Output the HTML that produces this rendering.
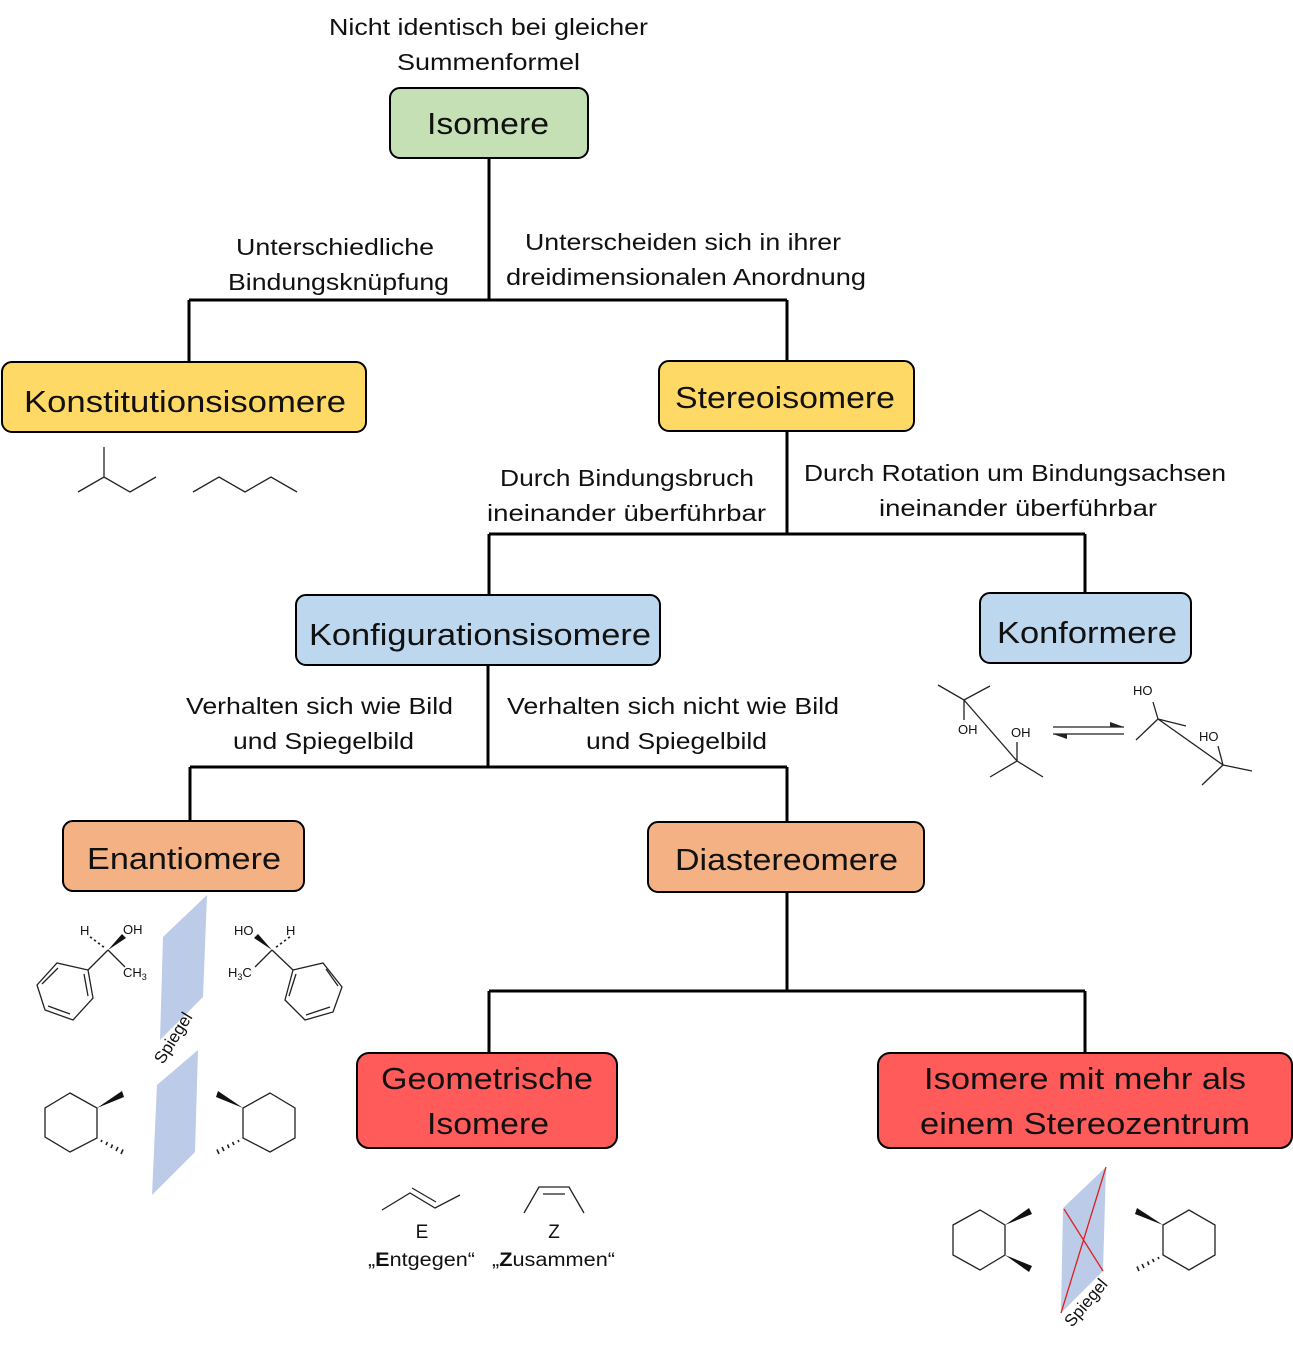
<!DOCTYPE html>
<html><head><meta charset="utf-8"><style>
html,body{margin:0;padding:0;background:#fff}
svg{display:block}
text{font-family:"Liberation Sans",sans-serif;fill:#111}
.l{font-size:23px}
.n{font-size:31px}
.c{font-size:13px}
</style></head><body>
<svg width="1293" height="1352" viewBox="0 0 1293 1352" xmlns="http://www.w3.org/2000/svg">
<g stroke="#000" stroke-width="3" fill="none">
<path d="M489 158V300M189 300H787M189 300V362M787 300V361"/>
<path d="M787 431V534M489 534H1085M489 534V595M1085 534V593"/>
<path d="M488 665V767M190 767H787M190 767V821M787 767V822"/>
<path d="M787 892V991M489 991H1085M489 991V1053M1085 991V1053"/>
</g>
<g stroke="#000" stroke-width="2">
<rect x="390" y="88" width="198" height="70" rx="10" fill="#c5e0b4"/>
<rect x="2" y="362" width="364" height="70" rx="10" fill="#ffd966"/>
<rect x="659" y="361" width="255" height="70" rx="10" fill="#ffd966"/>
<rect x="296" y="595" width="364" height="70" rx="10" fill="#bdd7ee"/>
<rect x="980" y="593" width="211" height="70" rx="10" fill="#bdd7ee"/>
<rect x="63" y="821" width="241" height="70" rx="10" fill="#f4b183"/>
<rect x="648" y="822" width="276" height="70" rx="10" fill="#f4b183"/>
<rect x="357" y="1053" width="260" height="95" rx="12" fill="#ff5b5b"/>
<rect x="878" y="1053" width="414" height="95" rx="12" fill="#ff5b5b"/>
</g>
<g class="n">
<text x="427" y="134" textLength="122" lengthAdjust="spacingAndGlyphs" class="n">Isomere</text>
<text x="24" y="412" textLength="322" lengthAdjust="spacingAndGlyphs" class="n">Konstitutionsisomere</text>
<text x="675" y="408" textLength="220" lengthAdjust="spacingAndGlyphs" class="n">Stereoisomere</text>
<text x="309" y="645" textLength="342" lengthAdjust="spacingAndGlyphs" class="n">Konfigurationsisomere</text>
<text x="997" y="643" textLength="180" lengthAdjust="spacingAndGlyphs" class="n">Konformere</text>
<text x="87" y="869" textLength="194" lengthAdjust="spacingAndGlyphs" class="n">Enantiomere</text>
<text x="675" y="870" textLength="223" lengthAdjust="spacingAndGlyphs" class="n">Diastereomere</text>
<text x="381" y="1089" textLength="212" lengthAdjust="spacingAndGlyphs" class="n">Geometrische</text>
<text x="427" y="1134" textLength="122" lengthAdjust="spacingAndGlyphs" class="n">Isomere</text>
<text x="924" y="1089" textLength="322" lengthAdjust="spacingAndGlyphs" class="n">Isomere mit mehr als</text>
<text x="920" y="1134" textLength="330" lengthAdjust="spacingAndGlyphs" class="n">einem Stereozentrum</text>
</g>
<g>
<text class="l" x="329" y="35" textLength="319" lengthAdjust="spacingAndGlyphs">Nicht identisch bei gleicher</text>
<text class="l" x="397" y="70" textLength="183" lengthAdjust="spacingAndGlyphs">Summenformel</text>
<text class="l" x="236" y="255" textLength="198" lengthAdjust="spacingAndGlyphs">Unterschiedliche</text>
<text class="l" x="228" y="290" textLength="221" lengthAdjust="spacingAndGlyphs">Bindungsknüpfung</text>
<text class="l" x="525" y="250" textLength="316" lengthAdjust="spacingAndGlyphs">Unterscheiden sich in ihrer</text>
<text class="l" x="506" y="285" textLength="360" lengthAdjust="spacingAndGlyphs">dreidimensionalen Anordnung</text>
<text class="l" x="500" y="486" textLength="254" lengthAdjust="spacingAndGlyphs">Durch Bindungsbruch</text>
<text class="l" x="487" y="521" textLength="279" lengthAdjust="spacingAndGlyphs">ineinander überführbar</text>
<text class="l" x="804" y="481" textLength="422" lengthAdjust="spacingAndGlyphs">Durch Rotation um Bindungsachsen</text>
<text class="l" x="879" y="516" textLength="278" lengthAdjust="spacingAndGlyphs">ineinander überführbar</text>
<text class="l" x="186" y="714" textLength="267" lengthAdjust="spacingAndGlyphs">Verhalten sich wie Bild</text>
<text class="l" x="233" y="749" textLength="181" lengthAdjust="spacingAndGlyphs">und Spiegelbild</text>
<text class="l" x="507" y="714" textLength="332" lengthAdjust="spacingAndGlyphs">Verhalten sich nicht wie Bild</text>
<text class="l" x="586" y="749" textLength="181" lengthAdjust="spacingAndGlyphs">und Spiegelbild</text>
<text x="422" y="1238" font-size="19" text-anchor="middle">E</text>
<text x="554" y="1238" font-size="19" text-anchor="middle">Z</text>
<text x="368" y="1266" font-size="19" textLength="107" lengthAdjust="spacingAndGlyphs">„<tspan font-weight="bold">E</tspan>ntgegen“</text>
<text x="492" y="1266" font-size="19" textLength="123" lengthAdjust="spacingAndGlyphs">„<tspan font-weight="bold">Z</tspan>usammen“</text>
</g>
<!-- molecules -->
<g stroke="#222" stroke-width="1.3" fill="none">
<path d="M78 492L104 477L130 492L156 477M104 477V447"/>
<path d="M193 492L219 477L245 492L271 477L297 492"/>
<path d="M382 1210L410 1193L435 1208L460 1195M412 1188L436 1202"/>
<path d="M524 1213L539 1187L569 1187L584 1213M543 1194H565"/>
<!-- enantiomers top -->
<path d="M108 950L125 967M108 950L88 970"/>
<path d="M88 970L93 998L73 1020L45 1010L37 985L57 963Z M84 974L88 996 M70 1014L48 1006 M42 984L58 968"/>
<path d="M272 950L255 967M272 950L293 970"/>
<path d="M293 970L323 963L342 987L333 1012L305 1020L285 1000Z M326 969L338 986 M330 1007L306 1015 M289 996L296 974"/>
<path d="M104 947l-2 -1M100 944l-2 -1M96 941l-2 -1M92 938l-2-1" stroke-width="1.8"/>
<path d="M276 947l2 -1M280 944l2 -1M284 941l2 -1M288 938l2-1" stroke-width="1.8"/>
<!-- cyclohexanes -->
<path d="M70 1093L97 1108L97 1138L70 1152L45 1137L45 1108Z"/>
<path d="M270 1093L295 1108L295 1138L270 1152L243 1138L243 1108Z"/>
<path d="M953 1225L980 1210L1005 1225L1005 1255L980 1270L953 1255Z"/>
<path d="M1163 1225L1189 1210L1215 1225L1215 1255L1189 1270L1163 1255Z"/>
<!-- conformers -->
<path d="M938 685L964 700L990 686M964 700V720M964 700L1017 761M990 777L1017 761L1043 777M1017 761V742"/>
<path d="M1053 727H1124M1053 734H1124"/>
<path d="M1158 719L1153 702M1158 719L1186 726M1158 719L1136 740M1158 719L1223 765M1223 765L1218 746M1223 765L1252 771M1223 765L1202 785"/>
</g>
<path d="M1124 727l-14 -5v5z" fill="#222"/>
<path d="M1053 734l14 5v-5z" fill="#222"/>
<g fill="#111">
<path d="M108 950L122 934L126 938Z"/>
<path d="M272 950L258 934L254 938Z"/>
<path d="M97 1108L122 1091L124 1097Z"/>
<path d="M243 1108L218 1091L216 1097Z"/>
<path d="M1005 1225L1029 1208L1032 1214Z"/>
<path d="M1005 1255L1029 1272L1032 1266Z"/>
<path d="M1163 1225L1137 1208L1135 1214Z"/>
</g>
<g stroke="#222" stroke-width="1.6">
<path d="M101 1142l1 -2M106 1145l1.5 -3M111 1148l1.5-3.5M116 1151l2 -4M121 1154l2 -4.5"/>
<path d="M239 1142l-1 -2M234 1145l-1.5 -3M229 1148l-1.5-3.5M224 1151l-2 -4M219 1154l-2 -4.5"/>
<path d="M1159 1259l-1 -2M1154 1262l-1.5 -3M1149 1265l-1.5-3.5M1144 1268l-2 -4M1139 1271l-2 -4.5"/>
</g>
<g fill="#bccbe8">
<path d="M163 937L207 895L203 997L160 1040Z"/>
<path d="M157 1085L198 1050L195 1152L152 1195Z"/>
<path d="M1063 1208L1106 1167L1103 1271L1061 1313Z"/>
</g>
<path d="M1064 1209L1103 1271M1106 1167L1061 1313" stroke="#e02020" stroke-width="1.3"/>
<g font-size="13">
<text x="80" y="935">H</text><text x="123" y="934">OH</text>
<text x="123" y="977">CH<tspan font-size="9" dy="3">3</tspan></text>
<text x="234" y="935">HO</text><text x="286" y="935">H</text>
<text x="228" y="977">H<tspan font-size="9" dy="3">3</tspan><tspan dy="-3">C</tspan></text>
<text x="958" y="734">OH</text><text x="1011" y="737">OH</text>
<text x="1133" y="695">HO</text><text x="1199" y="741">HO</text>
</g>
<text x="0" y="0" font-size="17" transform="translate(163 1065) rotate(-58)">Spiegel</text>
<text x="0" y="0" font-size="17" transform="translate(1072 1328) rotate(-50)">Spiegel</text>
</svg>
</body></html>
